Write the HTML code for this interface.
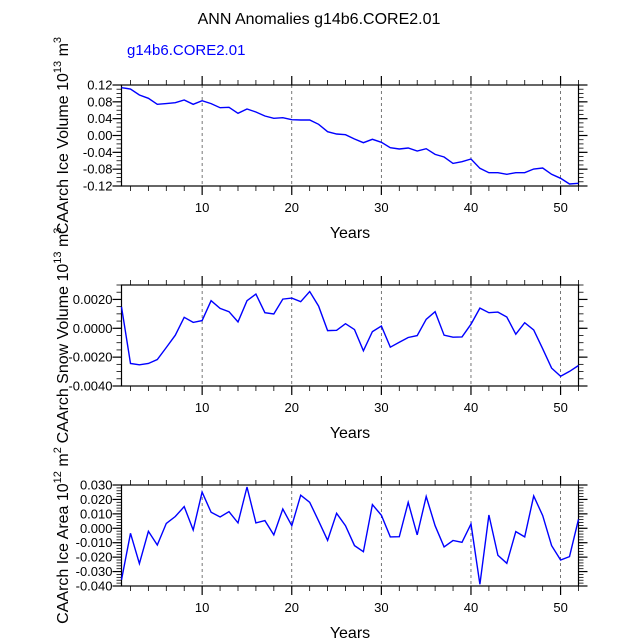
<!DOCTYPE html>
<html><head><meta charset="utf-8"><style>
html,body{margin:0;padding:0;background:#fff;}
svg text{font-family:"Liberation Sans",Helvetica,Arial,sans-serif;}
</style></head><body>
<svg id="chart" width="638" height="638" viewBox="0 0 638 638" xmlns="http://www.w3.org/2000/svg">
<text x="319" y="24" font-size="16" text-anchor="middle">ANN Anomalies g14b6.CORE2.01</text>
<text x="127" y="55" font-size="15" fill="#0000ff">g14b6.CORE2.01</text>
</svg>
<script>
const years = Array.from({length:52},(_,i)=>i+1);
const iceVolume = [0.1137,0.1105,0.0962,0.0883,0.0741,0.0757,0.0780,0.0844,0.0741,0.0828,0.0757,0.0661,0.0669,0.0527,0.0630,0.0558,0.0463,0.0408,0.0423,0.0376,0.0368,0.0368,0.0265,0.0091,0.0036,0.0020,-0.0083,-0.0170,-0.0091,-0.0162,-0.0289,-0.0321,-0.0297,-0.0368,-0.0313,-0.0448,-0.0511,-0.0662,-0.0622,-0.0559,-0.0780,-0.0883,-0.0883,-0.0923,-0.0883,-0.0883,-0.0796,-0.0772,-0.0923,-0.1018,-0.1152,-0.1137];
const snowVolume = [0.00149,-0.00244,-0.00253,-0.00244,-0.00216,-0.00133,-0.00048,0.00076,0.00041,0.00053,0.00191,0.00138,0.00115,0.00044,0.00191,0.00237,0.00108,0.00099,0.00202,0.00209,0.00184,0.00255,0.00154,-0.00016,-0.00014,0.00032,-0.00009,-0.00156,-0.00023,0.00016,-0.00131,-0.00097,-0.00064,-0.00051,0.00062,0.00115,-0.00048,-0.00062,-0.00060,0.00028,0.00140,0.00108,0.00112,0.00078,-0.00041,0.00039,-0.00011,-0.00142,-0.00276,-0.00333,-0.00299,-0.00258];
const iceArea = [-0.0358,-0.0035,-0.0245,-0.0021,-0.0116,0.0034,0.0082,0.0150,-0.0012,0.0251,0.0111,0.0078,0.0115,0.0037,0.0286,0.0037,0.0053,-0.0046,0.0134,0.0018,0.0229,0.0180,0.0051,-0.0083,0.0104,0.0018,-0.0120,-0.0162,0.0164,0.0090,-0.0060,-0.0058,0.0180,-0.0046,0.0220,0.0018,-0.0129,-0.0085,-0.0097,0.0030,-0.0388,0.0092,-0.0187,-0.0243,-0.0023,-0.0060,0.0224,0.0088,-0.0120,-0.0220,-0.0196,0.0062];
const xTicks = [10,20,30,40,50];
const iceVolTicks = ["0.12","0.08","0.04","0.00","-0.04","-0.08","-0.12"];
const snowTicks = ["0.0020","0.0000","-0.0020","-0.0040"];
const areaTicks = ["0.030","0.020","0.010","0.000","-0.010","-0.020","-0.030","-0.040"];

const svg = document.getElementById('chart');
const NS = 'http://www.w3.org/2000/svg';
const X0 = 121.5, X1 = 578.5;
function xs(v){ return X0 + (v-1)/(52-1)*(X1-X0); }
function mk(tag, attrs, parent){
  const e = document.createElementNS(NS, tag);
  for (const k in attrs) e.setAttribute(k, attrs[k]);
  (parent||svg).appendChild(e);
  return e;
}

function panel(opts){
  const {top, bot, ymin, ymax, ticks, minorStep, data, name, titleMain, titleExp, titleUnit} = opts;
  const ys = v => bot - (v-ymin)/(ymax-ymin)*(bot-top);
  const g = mk('g', {});
  
  
  xTicks.forEach(t => {
    const l = mk('line', {x1:xs(t), x2:xs(t), y1:top, y2:bot, stroke:'#555', 'stroke-width':0.8, 'stroke-dasharray':'3,3'}, g);
    
    
  });
  for (let yr = 2; yr <= 52; yr += 2) {
    const major = yr % 10 === 0;
    const len = major ? 9 : 5;
    mk('line', {x1:xs(yr), x2:xs(yr), y1:top, y2:top-len, stroke:'#000', 'stroke-width':major?1.2:0.8}, g);
    mk('line', {x1:xs(yr), x2:xs(yr), y1:bot, y2:bot+len, stroke:'#000', 'stroke-width':major?1.2:0.8}, g);
  }
  xTicks.forEach(t => {
    const tx = mk('text', {x:xs(t), y:bot+26, 'font-size':13, 'text-anchor':'middle'}, g);
    tx.textContent = t;
    
    
  });
  const nMinor = Math.round((ymax-ymin)/minorStep);
  for (let i = 0; i <= nMinor; i++) {
    const v = ymin + i*minorStep;
    const y = ys(v);
    mk('line', {x1:X0, x2:X0-5, y1:y, y2:y, stroke:'#000', 'stroke-width':0.8}, g);
    mk('line', {x1:X1, x2:X1+5, y1:y, y2:y, stroke:'#000', 'stroke-width':0.8}, g);
  }
  ticks.forEach(lbl => {
    const v = parseFloat(lbl);
    const y = ys(v);
    mk('line', {x1:X0, x2:X0-9, y1:y, y2:y, stroke:'#000', 'stroke-width':1.2}, g);
    mk('line', {x1:X1, x2:X1+9, y1:y, y2:y, stroke:'#000', 'stroke-width':1.2}, g);
    const tx = mk('text', {x:X0-9, y:y+4.5, 'font-size':13, 'text-anchor':'end'}, g);
    tx.textContent = lbl;
    
    
  });
  const fr = mk('rect', {x:X0, y:top, width:X1-X0, height:bot-top, fill:'none', stroke:'#000', 'stroke-width':1.2}, g);
  
  
  const pts = data.map((v,i) => xs(years[i]).toFixed(1) + ',' + ys(v).toFixed(1)).join(' ');
  const pl = mk('polyline', {points:pts, fill:'none', stroke:'#0000ff', 'stroke-width':1.4}, g);
  
  
  const xt = mk('text', {x:(X0+X1)/2, y:bot+52, 'font-size':16, 'text-anchor':'middle'}, g);
  xt.textContent = 'Years';
  
  
  const cy = (top+bot)/2;
  const yt = mk('text', {x:0, y:0, 'font-size':16, 'text-anchor':'middle', transform:'translate(68,' + cy + ') rotate(-90)'}, g);
  
  
  const s1 = document.createElementNS(NS,'tspan'); s1.textContent = titleMain + ' 10'; yt.appendChild(s1);
  const s2 = document.createElementNS(NS,'tspan'); s2.setAttribute('dy','-7'); s2.setAttribute('font-size','11'); s2.textContent = titleExp; yt.appendChild(s2);
  const s3 = document.createElementNS(NS,'tspan'); s3.setAttribute('dy','7'); s3.textContent = ' m'; yt.appendChild(s3);
  const s4 = document.createElementNS(NS,'tspan'); s4.setAttribute('dy','-7'); s4.setAttribute('font-size','11'); s4.textContent = titleUnit; yt.appendChild(s4);
}

panel({top:85, bot:186, ymin:-0.12, ymax:0.12, ticks:iceVolTicks, minorStep:0.01, data:iceVolume, name:'ice-volume', titleMain:'CAArch Ice Volume', titleExp:'13', titleUnit:'3'});
panel({top:285, bot:386, ymin:-0.004, ymax:0.003, ticks:snowTicks, minorStep:0.0005, data:snowVolume, name:'snow-volume', titleMain:'CAArch Snow Volume', titleExp:'13', titleUnit:'3'});
panel({top:485, bot:586, ymin:-0.04, ymax:0.03, ticks:areaTicks, minorStep:0.002, data:iceArea, name:'ice-area', titleMain:'CAArch Ice Area', titleExp:'12', titleUnit:'2'});
</script>
</body></html>
